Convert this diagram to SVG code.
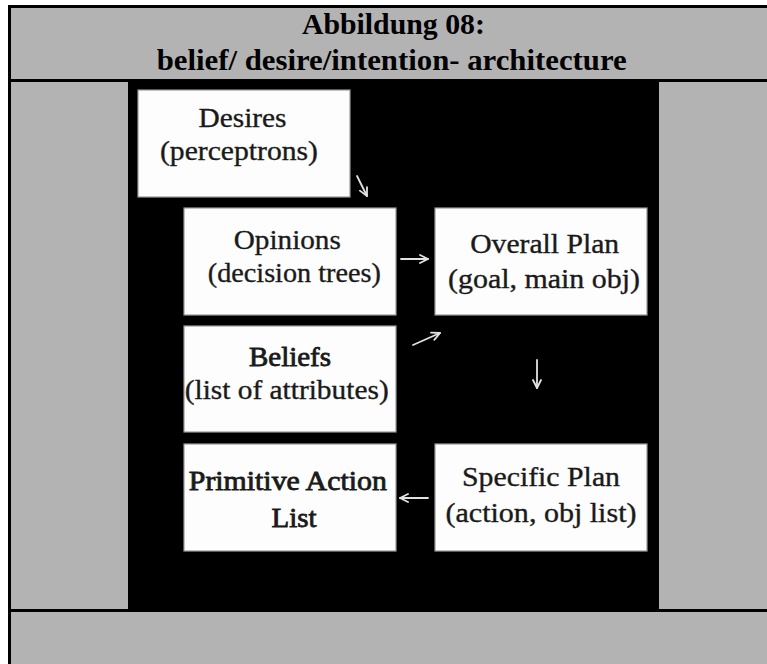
<svg xmlns="http://www.w3.org/2000/svg" width="767" height="664" viewBox="0 0 767 664">
  <defs>
    <style>
      .cell { fill: #b3b3b3; }
      .rule { fill: #000000; }
      .title { font-family: "Liberation Serif", "Times New Roman", serif; font-weight: bold; font-size: 30px; fill: #000000; text-anchor: middle; }
      .box { fill: #fdfdfd; stroke: #9a9a9a; stroke-width: 1.2; }
      .lbl { font-family: "Liberation Serif", "Times New Roman", serif; font-size: 27px; fill: #1a1a1a; stroke: #1a1a1a; stroke-width: 0.35; text-anchor: middle; }
      .heavy { stroke-width: 0.8; }
      .conn { fill: none; stroke: #e2e2e2; stroke-width: 1.8; stroke-linecap: round; }
    </style>
    <marker id="arrow" viewBox="0 0 10 10" refX="9" refY="5" markerWidth="10" markerHeight="10" markerUnits="userSpaceOnUse" orient="auto">
      <path d="M1,1 L9,5 L1,9" fill="none" stroke="#e2e2e2" stroke-width="1.8" stroke-linecap="round" stroke-linejoin="round"/>
    </marker>
  </defs>

  <!-- table frame -->
  <g id="table">
    <rect x="0" y="0" width="767" height="664" fill="#ffffff"/>
    <rect class="rule" x="8" y="5" width="759" height="659"/>
    <rect class="cell" x="11" y="8" width="756" height="71"/>
    <rect class="cell" x="11" y="82" width="117" height="527"/>
    <rect class="cell" x="659" y="82" width="108" height="527"/>
    <rect class="cell" x="11" y="612" width="756" height="52"/>
    <rect class="rule" x="128" y="82" width="531" height="527"/>
  </g>

  <g id="title">
    <text class="title" x="393.4" y="34" textLength="183" lengthAdjust="spacingAndGlyphs">Abbildung 08:</text>
    <text class="title" x="391.7" y="70" textLength="470" lengthAdjust="spacingAndGlyphs">belief/ desire/intention- architecture</text>
  </g>

  <g id="desires">
    <rect class="box" x="138" y="90" width="212" height="107"/>
    <text class="lbl" x="242.5" y="127" textLength="88" lengthAdjust="spacingAndGlyphs">Desires</text>
    <text class="lbl" x="239" y="160" textLength="158" lengthAdjust="spacingAndGlyphs">(perceptrons)</text>
  </g>

  <g id="opinions">
    <rect class="box" x="184" y="208" width="212" height="107"/>
    <text class="lbl" x="287.3" y="249" textLength="107" lengthAdjust="spacingAndGlyphs">Opinions</text>
    <text class="lbl" x="294.3" y="282" textLength="173" lengthAdjust="spacingAndGlyphs">(decision trees)</text>
  </g>

  <g id="overall-plan">
    <rect class="box" x="435" y="208" width="212" height="107"/>
    <text class="lbl" x="544.7" y="253" textLength="149" lengthAdjust="spacingAndGlyphs">Overall Plan</text>
    <text class="lbl" x="544" y="288" textLength="192" lengthAdjust="spacingAndGlyphs">(goal, main obj)</text>
  </g>

  <g id="beliefs">
    <rect class="box" x="184" y="326" width="212" height="106"/>
    <text class="lbl heavy" x="290" y="366" textLength="82" lengthAdjust="spacingAndGlyphs">Beliefs</text>
    <text class="lbl" x="286.7" y="399" textLength="204" lengthAdjust="spacingAndGlyphs">(list of attributes)</text>
  </g>

  <g id="primitive-action-list">
    <rect class="box" x="184" y="444" width="212" height="107"/>
    <text class="lbl heavy" x="287.8" y="490" textLength="198" lengthAdjust="spacingAndGlyphs">Primitive Action</text>
    <text class="lbl heavy" x="294" y="527" textLength="45" lengthAdjust="spacingAndGlyphs">List</text>
  </g>

  <g id="specific-plan">
    <rect class="box" x="435" y="444" width="212" height="107"/>
    <text class="lbl" x="541" y="486" textLength="158" lengthAdjust="spacingAndGlyphs">Specific Plan</text>
    <text class="lbl" x="541" y="522" textLength="191" lengthAdjust="spacingAndGlyphs">(action, obj list)</text>
  </g>

  <g id="connectors">
    <line class="conn" x1="357" y1="176" x2="367" y2="196" marker-end="url(#arrow)"/>
    <line class="conn" x1="401" y1="259" x2="428" y2="259" marker-end="url(#arrow)"/>
    <line class="conn" x1="413" y1="345" x2="440" y2="333" marker-end="url(#arrow)"/>
    <line class="conn" x1="537" y1="360" x2="537" y2="388" marker-end="url(#arrow)"/>
    <line class="conn" x1="428" y1="498" x2="400" y2="498" marker-end="url(#arrow)"/>
  </g>
</svg>
